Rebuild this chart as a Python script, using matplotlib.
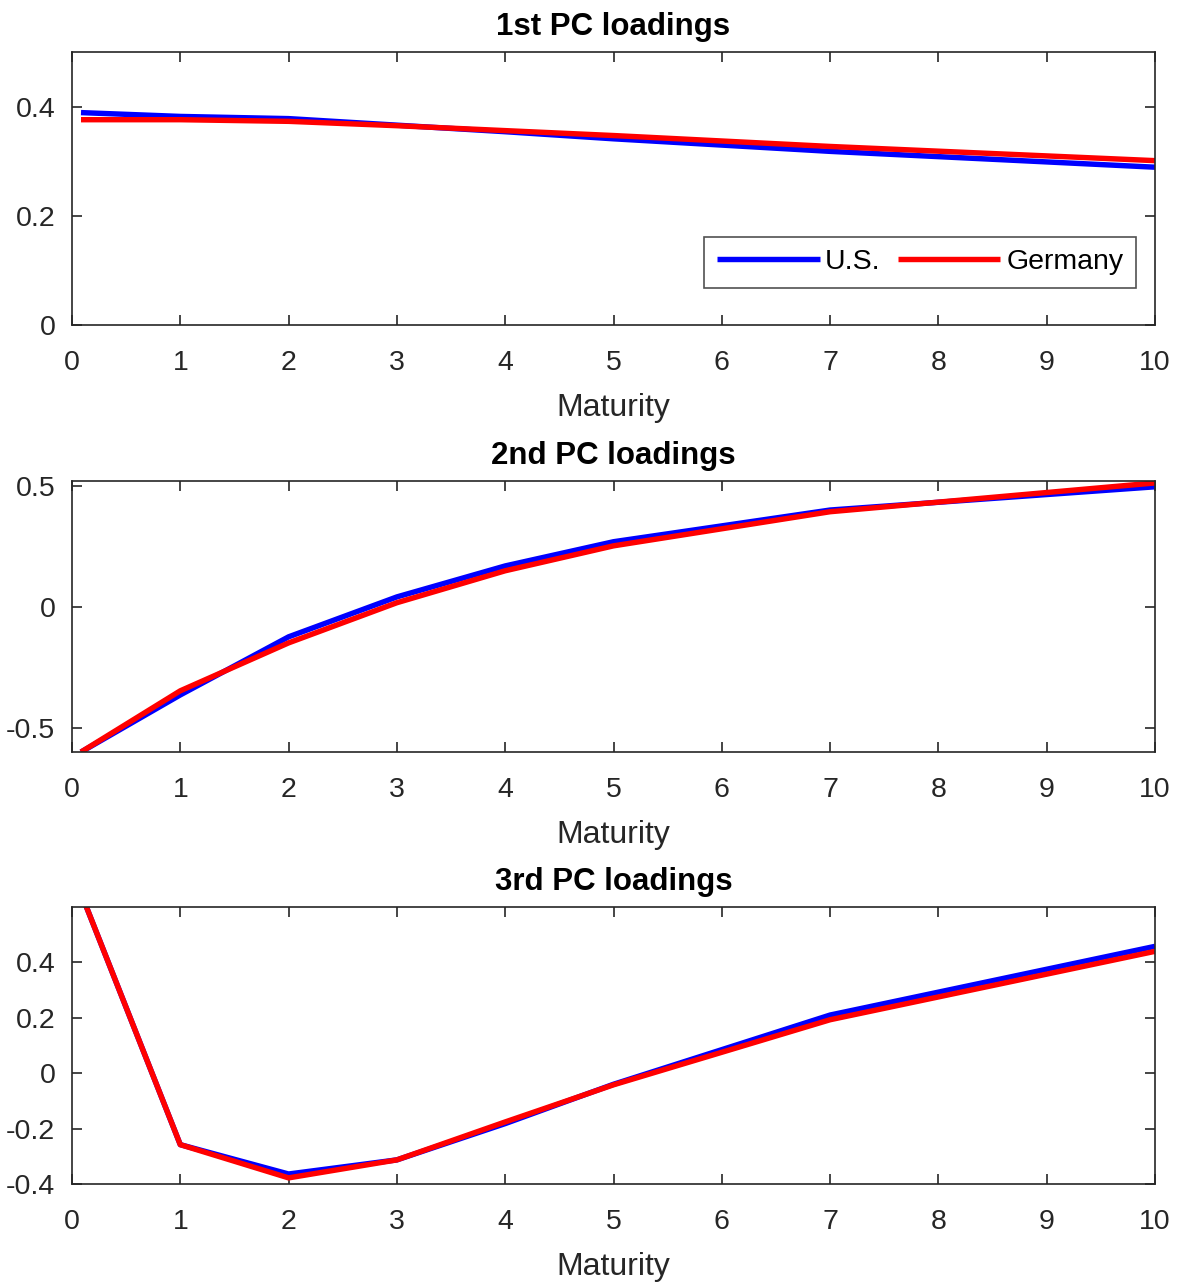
import numpy as np
import matplotlib.pyplot as plt
import matplotlib as mpl

mpl.rcParams['font.family'] = ['Liberation Sans', 'DejaVu Sans']
mpl.rcParams['axes.edgecolor'] = '#262626'
mpl.rcParams['xtick.color'] = '#262626'
mpl.rcParams['ytick.color'] = '#262626'
mpl.rcParams['xtick.labelsize'] = 20.5
mpl.rcParams['ytick.labelsize'] = 20.5

maturity = [1/12, 1, 2, 3, 4, 5, 7, 10]

# 1st PC
pc1_us = [0.389, 0.382, 0.378, 0.366, 0.354, 0.341, 0.318, 0.289]
pc1_de = [0.376, 0.376, 0.373, 0.365, 0.356, 0.347, 0.327, 0.301]
# 2nd PC
pc2_us = [-0.60, -0.364, -0.124, 0.041, 0.169, 0.269, 0.400, 0.496]
pc2_de = [-0.60, -0.347, -0.149, 0.017, 0.149, 0.252, 0.393, 0.512]
# 3rd PC
pc3_us = [0.65, -0.258, -0.364, -0.313, -0.182, -0.040, 0.210, 0.458]
pc3_de = [0.65, -0.258, -0.378, -0.313, -0.176, -0.042, 0.193, 0.440]

titles = ['1st PC loadings', '2nd PC loadings', '3rd PC loadings']
ylims = [(0, 0.5), (-0.6, 0.52), (-0.4, 0.6)]
yticks = [[0, 0.2, 0.4], [-0.5, 0, 0.5], [-0.4, -0.2, 0, 0.2, 0.4]]
ylabels = [['0', '0.2', '0.4'], ['-0.5', '0', '0.5'], ['-0.4', '-0.2', '0', '0.2', '0.4']]
data = [(pc1_us, pc1_de), (pc2_us, pc2_de), (pc3_us, pc3_de)]

fig = plt.figure(figsize=(11.78, 12.84), dpi=100)
rects = [[0.0611, 0.7469, 0.9194, 0.2126],
         [0.0611, 0.4143, 0.9194, 0.2111],
         [0.0611, 0.0779, 0.9194, 0.2157]]

for i in range(3):
    ax = fig.add_axes(rects[i])
    us, de = data[i]
    ax.plot(maturity, us, color='#0000ff', lw=3.9, label='U.S.', solid_capstyle='butt')
    ax.plot(maturity, de, color='#ff0000', lw=3.9, label='Germany', solid_capstyle='butt')
    ax.set_xlim(0, 10)
    ax.set_ylim(*ylims[i])
    ax.set_xticks(range(11))
    ax.set_yticks(yticks[i])
    ax.set_yticklabels(ylabels[i])
    ax.tick_params(direction='in', top=True, right=True, length=7, width=1.2)
    ax.tick_params(axis='x', pad=18)
    ax.tick_params(axis='y', pad=12)
    for s in ax.spines.values():
        s.set_linewidth(1.2)
    ax.set_xlabel('Maturity', fontsize=23, color='#262626', labelpad=12)
    ax.set_title(titles[i], fontsize=22.5, fontweight='bold', pad=12)
    if i == 0:
        leg = ax.legend(ncol=2, loc='lower right', bbox_to_anchor=(0.9825, 0.135),
                        fontsize=20.5, frameon=True, fancybox=False, edgecolor='#262626',
                        handlelength=3.6, columnspacing=0.6, handletextpad=0.2,
                        borderpad=0.45, borderaxespad=0)
        leg.get_frame().set_linewidth(1.2)

fig.savefig('out.png', dpi=100)
